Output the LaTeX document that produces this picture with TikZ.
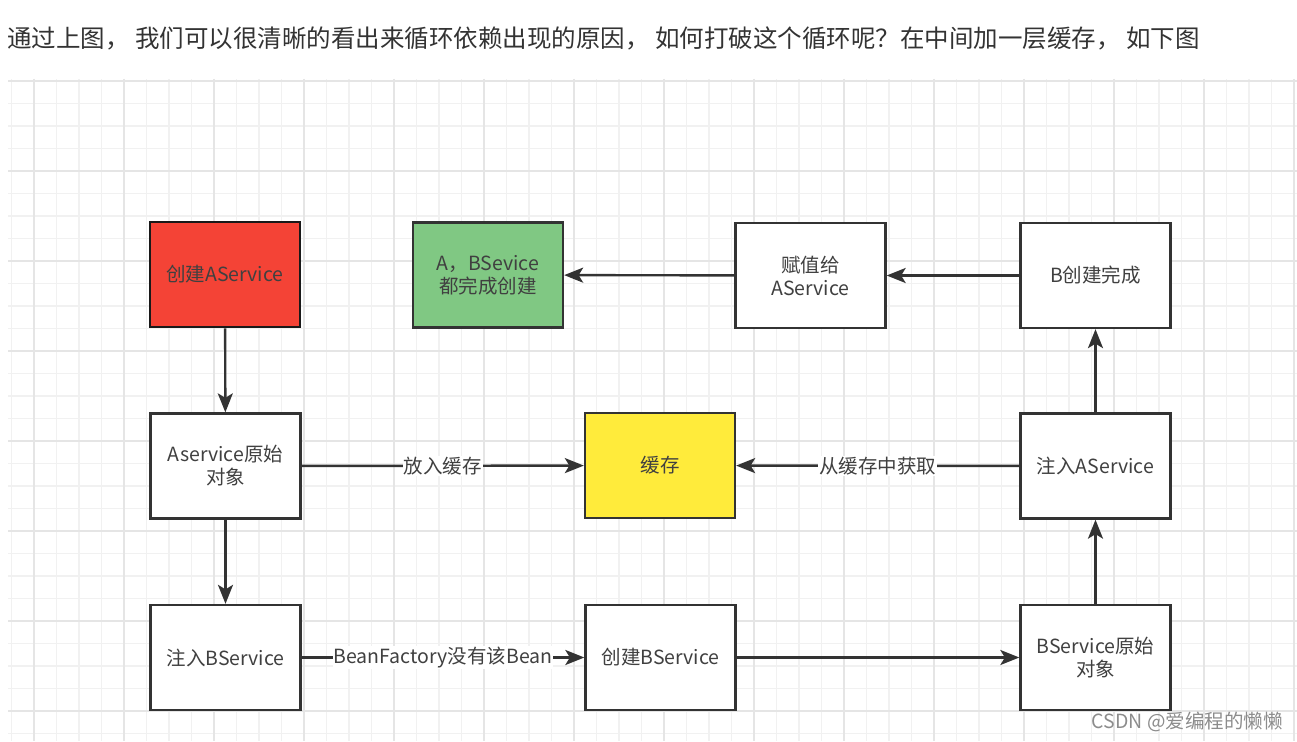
\documentclass[tikz,border=0pt]{standalone}
\usepackage{fontspec}
\setmainfont{Noto Sans CJK SC}
\usetikzlibrary{arrows.meta}

\definecolor{gridminor}{HTML}{F1F1F1}
\definecolor{gridmajor}{HTML}{E5E5E5}
\definecolor{ink}{HTML}{333333}
\definecolor{txt}{HTML}{404040}
\definecolor{redfill}{HTML}{F44336}
\definecolor{greenfill}{HTML}{80C883}
\definecolor{yellowfill}{HTML}{FFEB3B}
\definecolor{mark}{HTML}{8C8C8C}

\tikzset{
  stepbox/.style={draw=ink, line width=2.3pt, fill=white, minimum width=150pt,
    minimum height=105pt, inner sep=2pt, align=center, text=txt,
    font=\fontsize{19.5}{23}\selectfont},
  flow/.style={draw=ink, line width=2.4pt,
    -{Stealth[length=19pt, width=15pt, inset=4.5pt]}},
  flowlabel/.style={fill=white, inner sep=1pt, text=txt,
    font=\fontsize{19.5}{23}\selectfont}
}

\begin{document}
\begin{tikzpicture}[x=1pt, y=-1pt]
  \useasboundingbox (0,0) rectangle (1297,741);

  % heading line
  \node[anchor=west, inner sep=0pt, text=ink, font=\fontsize{24.5}{28}\selectfont]
    (heading) at (7,38) {通过上图， 我们可以很清晰的看出来循环依赖出现的原因， 如何打破这个循环呢？在中间加一层缓存， 如下图};

  % canvas grid
  \begin{scope}
    \clip (8,79) rectangle (1297,741);
    \foreach \i in {0,...,57}
      \draw[gridminor, line width=1.2pt] ({11.5+22.5*\i},79) -- ({11.5+22.5*\i},741);
    \foreach \j in {0,...,29}
      \draw[gridminor, line width=1.2pt] (8,{81+22.5*\j}) -- (1297,{81+22.5*\j});
    \foreach \i in {0,...,14}
      \draw[gridmajor, line width=1.5pt] ({34+90*\i},79) -- ({34+90*\i},741);
    \foreach \j in {0,...,7}
      \draw[gridmajor, line width=1.5pt] (8,{81+90*\j}) -- (1297,{81+90*\j});
  \end{scope}

  % process boxes
  \node[stepbox, fill=redfill, draw=black!90, line width=2.7pt] (createA) at (225,274.5) {创建AService};
  \node[stepbox, fill=greenfill] (alldone) at (488,275) {A，BSevice\\都完成创建};
  \node[stepbox] (assign) at (810.5,275.5) {赋值给\\AService};
  \node[stepbox] (bdone) at (1095.5,275.5) {B创建完成};

  \node[stepbox] (araw) at (225.5,466) {Aservice原始\\对象};
  \node[stepbox, fill=yellowfill] (cache) at (660,465.5) {缓存};
  \node[stepbox] (injectA) at (1095.5,466) {注入AService};

  \node[stepbox] (injectB) at (225.5,657.5) {注入BService};
  \node[stepbox] (createB) at (660.5,657.5) {创建BService};
  \node[stepbox] (braw) at (1095.5,657.5) {BService原始\\对象};

  % connectors
  \draw[flow] (createA) -- (araw);
  \draw[flow] (araw) -- (injectB);
  \draw[flow] (araw) -- node[flowlabel] {放入缓存} (cache);
  \draw[flow] (injectA) -- node[flowlabel] {从缓存中获取} (cache);
  \draw[flow] (injectB) -- node[flowlabel] {BeanFactory没有该Bean} (createB);
  \draw[flow] (createB) -- (braw);
  \draw[flow] (braw) -- (injectA);
  \draw[flow] (injectA) -- (bdone);
  \draw[flow] (bdone) -- (assign);
  \draw[flow] (assign) -- (alldone);

  % watermark
  \node[anchor=east, inner sep=0pt, text=mark, font=\fontsize{19.5}{22}\selectfont]
    (watermark) at (1283,722) {CSDN @爱编程的懒懒};
\end{tikzpicture}
\end{document}
